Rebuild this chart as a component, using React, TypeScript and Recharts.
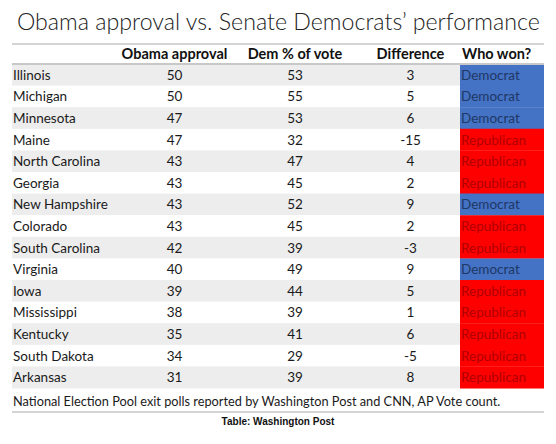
import { BarChart, Bar, XAxis, YAxis, LabelList, Cell } from 'recharts';

// Table values, read row by row
const states = [
  'Illinois', 'Michigan', 'Minnesota', 'Maine', 'North Carolina', 'Georgia', 'New Hampshire',
  'Colorado', 'South Carolina', 'Virginia', 'Iowa', 'Mississippi', 'Kentucky', 'South Dakota', 'Arkansas',
];
const obamaApproval = [50, 50, 47, 47, 43, 43, 43, 43, 42, 40, 39, 38, 35, 34, 31];
const demShare = [53, 55, 53, 32, 47, 45, 52, 45, 39, 49, 44, 39, 41, 29, 39];
const difference = [3, 5, 6, -15, 4, 2, 9, 2, -3, 9, 5, 1, 6, -5, 8];
const winner = [
  'Democrat', 'Democrat', 'Democrat', 'Republican', 'Republican', 'Republican', 'Democrat',
  'Republican', 'Republican', 'Democrat', 'Republican', 'Republican', 'Republican', 'Republican', 'Republican',
];
const headers = ['', 'Obama approval', 'Dem % of vote', 'Difference', 'Who won?'];

// column widths in axis units (the x axis maps 1 unit to 1px)
const colWidths = [108, 109, 132, 99, 84];
const total = colWidths.reduce((a, b) => a + b, 0);
const colStart = colWidths.map((_, i) => colWidths.slice(0, i).reduce((a, b) => a + b, 0));
const headerTicks = colWidths.map((w, i) => (i === colWidths.length - 1 ? colStart[i] + 2 : colStart[i] + w / 2)).slice(1);

const rows = states.map((state, i) => ({
  state,
  approval: obamaApproval[i],
  dem: demShare[i],
  diff: difference[i],
  winner: winner[i],
  c0: colWidths[0],
  c1: colWidths[1],
  c2: colWidths[2],
  c3: colWidths[3],
  c4: colWidths[4],
}));

const FONT = 'Lato, "Open Sans", sans-serif';
const winColors: Record<string, string> = { Democrat: '#4472C4', Republican: '#FF0000' };
const winText: Record<string, string> = { Democrat: '#1F3864', Republican: '#B00000' };

const cellText = (anchor: 'start' | 'middle') => (p: any) => {
  const vb = p.viewBox || {};
  const x = p.x ?? vb.x;
  const y = p.y ?? vb.y;
  const w = p.width ?? vb.width;
  const h = p.height ?? vb.height;
  const color = winText[p.value] || '#1a1a1a';
  return (
    <text
      x={anchor === 'start' ? x + 1 : x + w / 2}
      y={y + h / 2}
      dy="0.35em"
      textAnchor={anchor}
      fontFamily={FONT}
      fontSize={13.5}
      fill={color}
    >
      {p.value}
    </text>
  );
};

const stripe = (p: any) => (
  <rect x={12} y={p.y} width={532} height={p.height} fill={p.index % 2 === 0 ? '#ededed' : '#ffffff'} />
);

const HeaderTick = (p: any) => {
  const i = headerTicks.indexOf(p.payload.value) + 1;
  const last = i === headers.length - 1;
  return (
    <text x={p.x} y={59} textAnchor={last ? 'start' : 'middle'} fontFamily={FONT} fontWeight={700} fontSize={14.5} fill="#111">
      {headers[i]}
    </text>
  );
};

const App = () => {
  return (
    <div style={{ position: 'absolute', left: 0, top: 0, width: 556, height: 444, background: '#fff', fontFamily: FONT }}>
      <div style={{ position: 'absolute', left: 17, top: 7, fontSize: 23.2, fontWeight: 300, color: '#222', whiteSpace: 'nowrap' }}>
        Obama approval vs. Senate Democrats’ performance
      </div>
      <div style={{ position: 'absolute', left: 12, top: 43, width: 532, height: 2, background: '#d4d4d4' }} />
      <BarChart
        layout="vertical"
        width={556}
        height={444}
        data={rows}
        margin={{ top: 44, right: 12, bottom: 56, left: 12 }}
        barCategoryGap={0}
        style={{ position: 'absolute', left: 0, top: 0 }}
      >
        <XAxis
          type="number"
          orientation="top"
          domain={[0, total]}
          ticks={headerTicks}
          interval={0}
          height={20}
          tickLine={false}
          tickSize={0}
          axisLine={{ stroke: '#c8c8c8', strokeWidth: 2 }}
          tick={<HeaderTick />}
        />
        <YAxis type="category" dataKey="state" hide width={0} />
        <Bar dataKey="c0" stackId="t" fill="transparent" background={stripe} isAnimationActive={false}>
          <LabelList dataKey="state" content={cellText('start')} />
        </Bar>
        <Bar dataKey="c1" stackId="t" fill="transparent" isAnimationActive={false}>
          <LabelList dataKey="approval" content={cellText('middle')} />
        </Bar>
        <Bar dataKey="c2" stackId="t" fill="transparent" isAnimationActive={false}>
          <LabelList dataKey="dem" content={cellText('middle')} />
        </Bar>
        <Bar dataKey="c3" stackId="t" fill="transparent" isAnimationActive={false}>
          <LabelList dataKey="diff" content={cellText('middle')} />
        </Bar>
        <Bar dataKey="c4" stackId="t" isAnimationActive={false}>
          {rows.map((r, i) => (
            <Cell key={`win-${i}`} fill={winColors[r.winner]} />
          ))}
          <LabelList dataKey="winner" content={cellText('start')} />
        </Bar>
      </BarChart>
      <div style={{ position: 'absolute', left: 13, top: 393, fontSize: 12.75, color: '#1a1a1a', whiteSpace: 'nowrap' }}>
        National Election Pool exit polls reported by Washington Post and CNN, AP Vote count.
      </div>
      <div style={{ position: 'absolute', left: 12, top: 411, width: 532, height: 2, background: '#d4d4d4' }} />
      <div
        style={{
          position: 'absolute',
          left: 0,
          width: 556,
          top: 416,
          textAlign: 'center',
          fontFamily: '"Liberation Sans", Arial, sans-serif',
          fontWeight: 700,
          fontSize: 10,
          color: '#111',
        }}
      >
        Table: Washington Post
      </div>
    </div>
  );
};

export default App;
